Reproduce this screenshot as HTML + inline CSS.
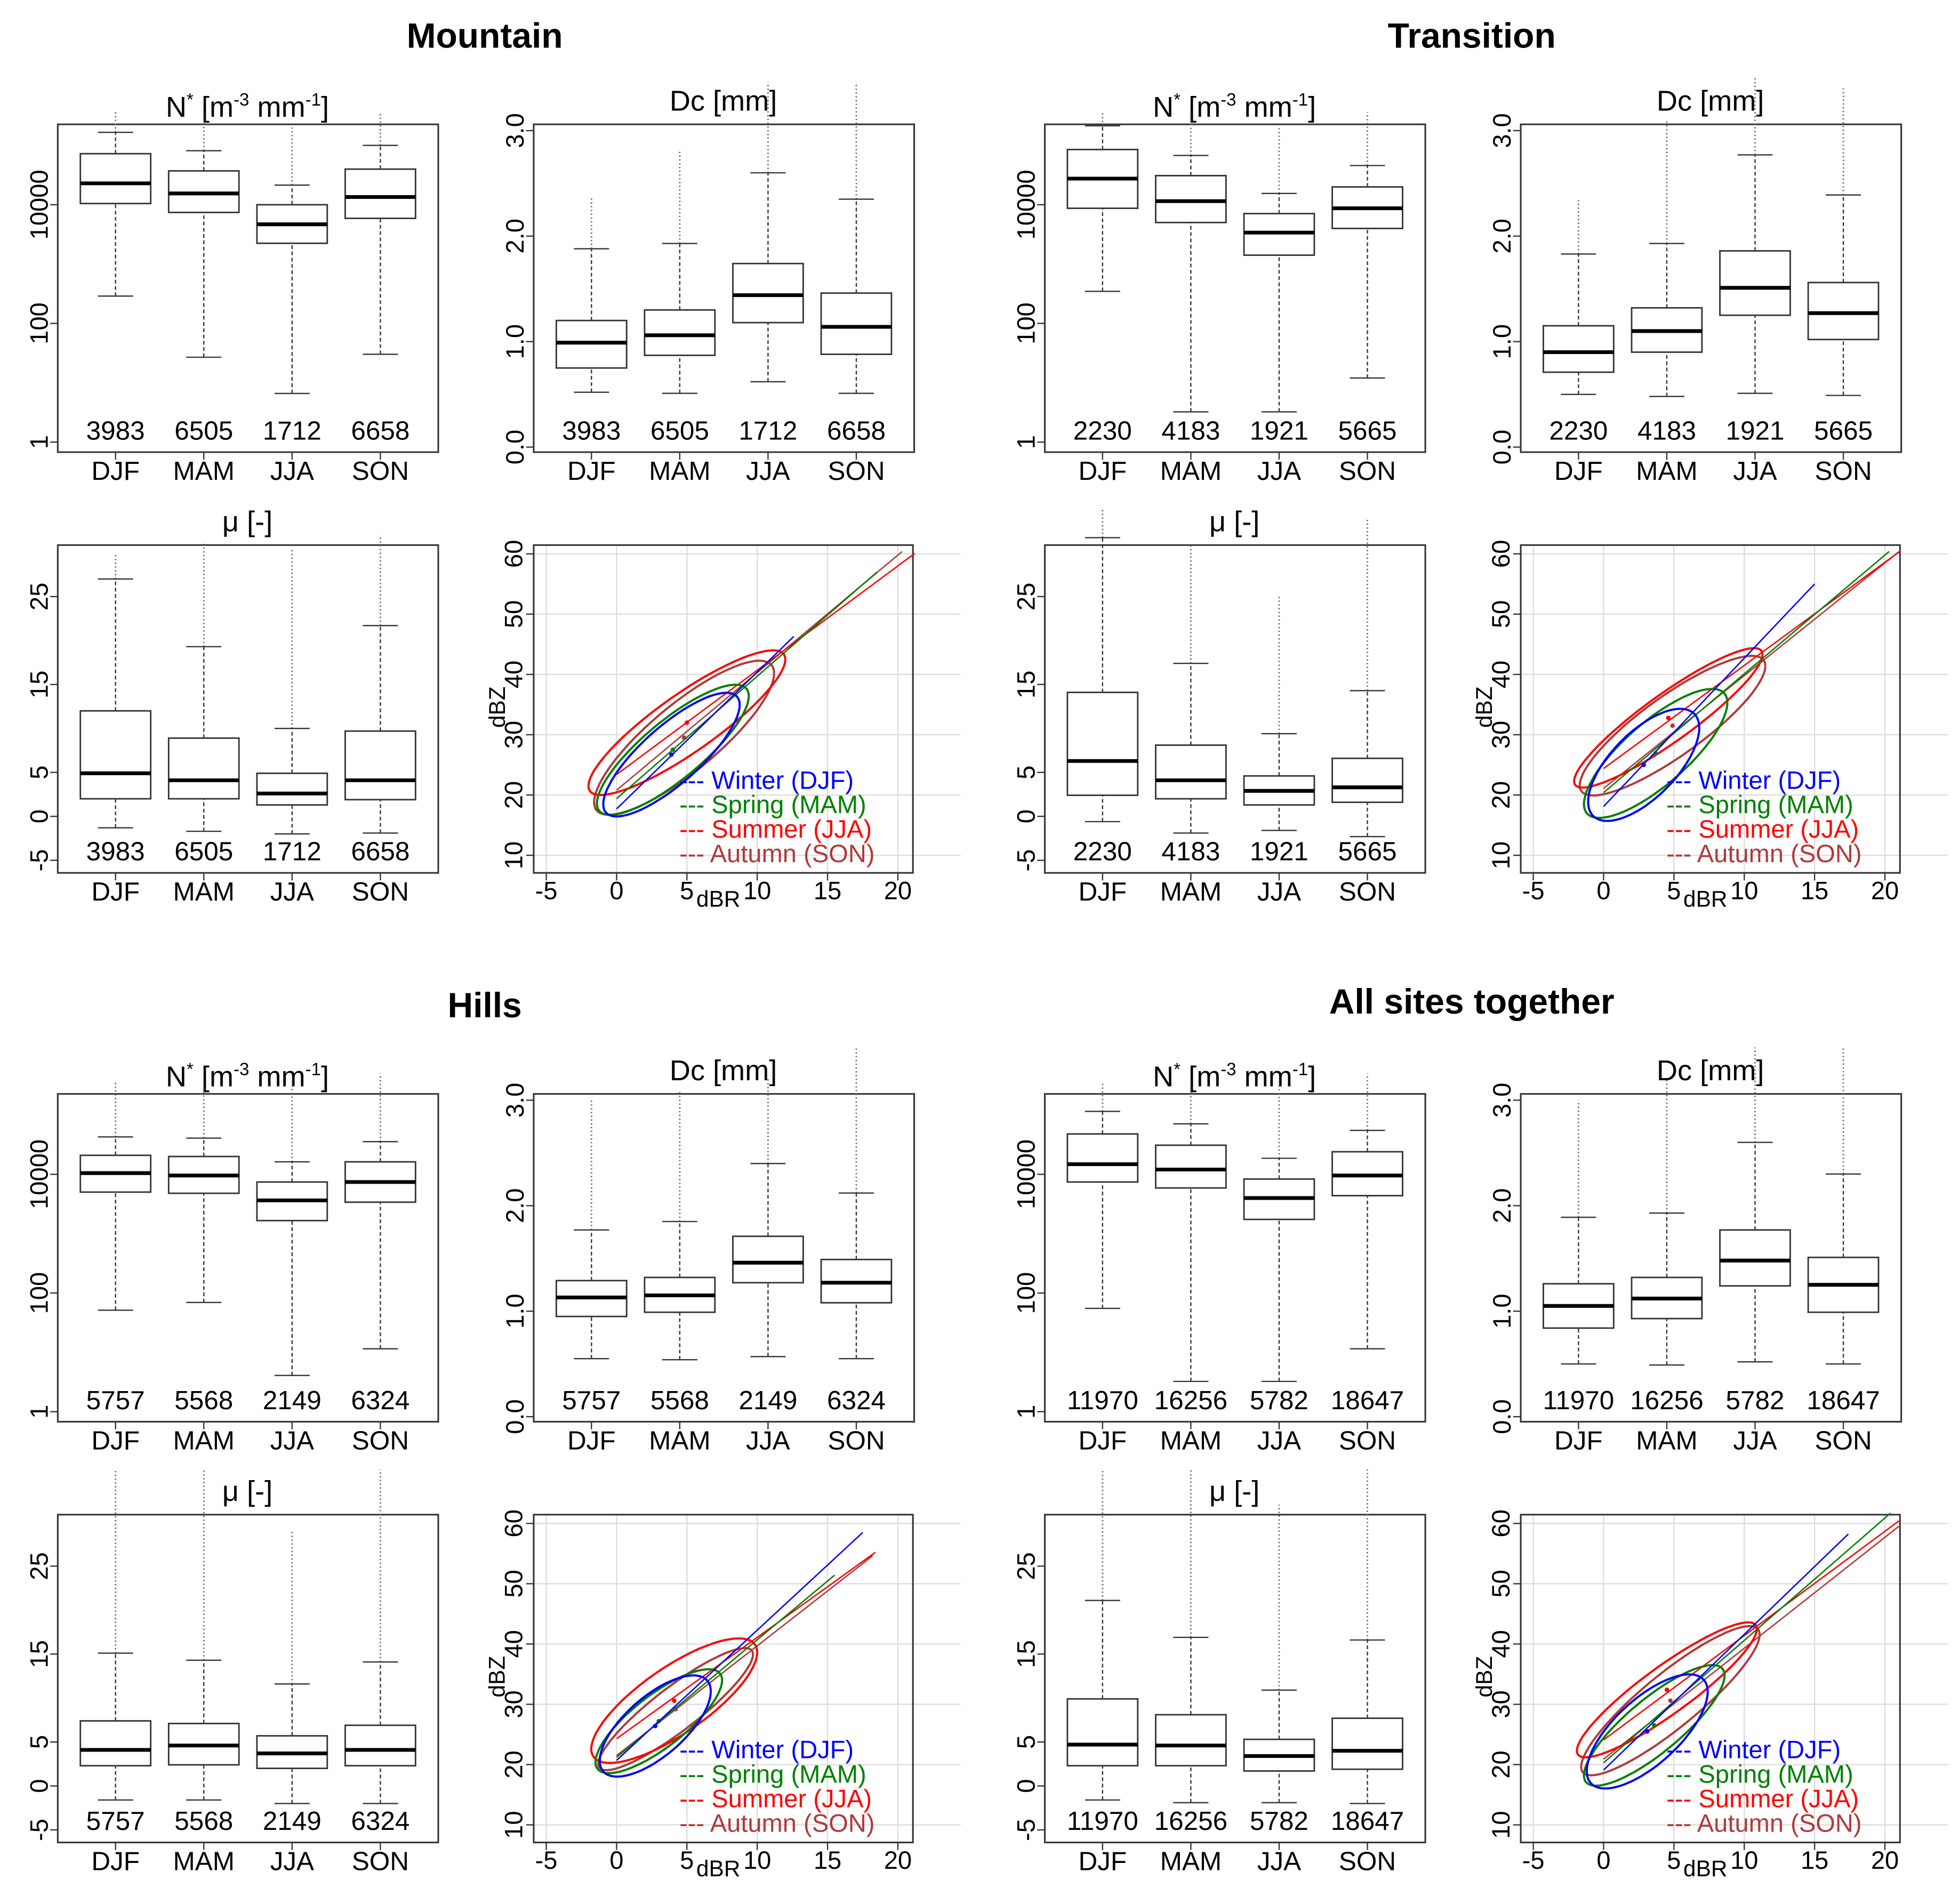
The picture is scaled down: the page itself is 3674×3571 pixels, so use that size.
<!DOCTYPE html>
<html><head><meta charset="utf-8">
<style>
html,body{margin:0;padding:0;background:#fff;}
svg{display:block;}
text{font-family:"Liberation Sans",Arial,sans-serif;}
</style></head>
<body>
<svg id="chart" width="3674" height="3571" viewBox="0 0 1560 1516" preserveAspectRatio="none" xmlns="http://www.w3.org/2000/svg"></svg>
<script>
// ---------------- DATA ----------------
const seasons = ["DJF","MAM","JJA","SON"];
const sites = ["Mountain","Transition","Hills","All sites together"];
const counts = [
  [3983,6505,1712,6658],
  [2230,4183,1921,5665],
  [5757,5568,2149,6324],
  [11970,16256,5782,18647]
];
// box stats: [low whisker, q1, median, q3, high whisker, max outlier]; N* in log10
const nstarMountain = [[2.46,4.02,4.36,4.86,5.22,5.56],[1.43,3.87,4.19,4.57,4.91,5.56],[0.82,3.35,3.67,4.0,4.33,5.3],[1.48,3.77,4.13,4.6,5.0,5.56]];
const nstarTransition = [[2.54,3.94,4.44,4.93,5.33,5.56],[0.51,3.7,4.06,4.49,4.83,5.56],[0.51,3.15,3.53,3.85,4.19,5.3],[1.08,3.6,3.94,4.3,4.66,5.56]];
const nstarHills = [[1.71,3.7,4.02,4.32,4.63,5.56],[1.84,3.68,3.98,4.3,4.61,5.56],[0.61,3.22,3.56,3.87,4.21,5.56],[1.06,3.53,3.87,4.21,4.55,5.7]];
const nstarAll = [[1.74,3.87,4.17,4.68,5.06,5.56],[0.51,3.77,4.08,4.49,4.85,5.6],[0.51,3.24,3.6,3.92,4.27,5.56],[1.06,3.64,3.98,4.38,4.74,5.7]];
const dcMountain = [[0.52,0.75,0.99,1.2,1.88,2.36],[0.51,0.87,1.06,1.3,1.93,2.8],[0.62,1.18,1.44,1.74,2.6,3.46],[0.51,0.88,1.14,1.46,2.35,3.46]];
const dcTransition = [[0.5,0.71,0.9,1.15,1.83,2.36],[0.48,0.9,1.1,1.32,1.93,3.1],[0.51,1.25,1.51,1.86,2.77,3.5],[0.49,1.02,1.27,1.56,2.39,3.4]];
const dcHills = [[0.55,0.95,1.13,1.29,1.77,3.0],[0.54,0.99,1.15,1.32,1.85,3.1],[0.57,1.27,1.46,1.71,2.4,3.2],[0.55,1.08,1.27,1.49,2.12,3.5]];
const dcAll = [[0.5,0.84,1.05,1.26,1.89,3.0],[0.49,0.93,1.12,1.32,1.93,3.2],[0.52,1.24,1.48,1.77,2.6,3.5],[0.5,0.99,1.25,1.51,2.3,3.5]];
const muMountain = [[-1.3,2,4.9,12,27,30],[-1.7,2,4.1,8.9,19.3,31],[-2,1.3,2.6,4.9,10,30.5],[-1.9,1.9,4.1,9.7,21.7,32]];
const muTransition = [[-0.6,2.4,6.3,14.1,31.7,35],[-1.9,2,4.1,8.1,17.4,31],[-1.6,1.3,2.9,4.6,9.4,25],[-2.3,1.6,3.3,6.6,14.3,34]];
const muHills = [[-1.6,2.3,4.1,7.4,15.1,36],[-1.6,2.4,4.6,7.1,14.3,36],[-2,2,3.7,5.7,11.6,29],[-2,2.3,4.1,6.9,14.1,36]];
const muAll = [[-1.6,2.3,4.7,9.9,21.1,36],[-1.9,2.3,4.6,8.1,16.9,36],[-1.9,1.7,3.4,5.3,10.9,32],[-2,1.9,4,7.7,16.6,36]];
const nstarTicks = [0,2,4];
const nstarTickLabels = ["1","100","10000"];
const dcTicks = [0,1,2,3];
const dcTickLabels = ["0.0","1.0","2.0","3.0"];
const muTicks = [-5,0,5,15,25];
const scX = [-5,0,5,10,15,20];
const scY = [10,20,30,40,50,60];
const seasonColors = ["#0000ff","#008000","#ff0000","#b03a3a"];
const legendLabels = ["Winter (DJF)","Spring (MAM)","Summer (JJA)","Autumn (SON)"];
// regression lines: [intercept, slope, xmax]
const linesMountain = [[17.7,2.27,12.6],[19.4,2.03,18.5],[23.4,1.73,21.2],[20.8,1.95,20.3]];
const linesTransition = [[18.1,2.46,15],[20.4,1.97,20.3],[24.4,1.71,21.1],[21.1,1.87,21]];
const linesHills = [[20.7,2.16,17.5],[21.2,1.95,15.5],[24.3,1.68,18.4],[21.5,1.82,18.2]];
const linesAll = [[19.1,2.25,17.4],[20.3,2.03,20.4],[24.1,1.73,21],[20.9,1.84,21]];
// ellipses: [cx, cy, rx, ry, shear]
const ellMountain = [[3.9,26.7,4.85,6.1,1.7],[4,27.5,5.4,6.1,1.65],[5,32,7,5.8,1.5],[4.8,29.5,6.4,7,1.67]];
const ellTransition = [[2.85,25,3.95,7,1.55],[3.7,26.9,5.1,6.6,1.65],[4.6,32.8,6.7,4.8,1.57],[4.9,31.5,6.6,6,1.5]];
const ellHills = [[2.75,26.4,3.95,6.1,1.46],[3,27.2,4.5,5.3,1.51],[4.1,30.6,5.9,6.5,1.36],[4.2,29.2,5.5,4.5,1.65]];
const ellAll = [[3.1,25.5,4.3,6.8,1.53],[3.6,26.5,5,5.6,1.66],[4.5,32.4,6.4,4.8,1.58],[4.75,30.6,6.35,5.7,1.73]];

const nstarSets=[nstarMountain,nstarTransition,nstarHills,nstarAll];
const dcSets=[dcMountain,dcTransition,dcHills,dcAll];
const muSets=[muMountain,muTransition,muHills,muAll];
const lineSets=[linesMountain,linesTransition,linesHills,linesAll];
const ellSets=[ellMountain,ellTransition,ellHills,ellAll];

// ---------------- DRAW ----------------
const svg=document.getElementById('chart');
const NS="http://www.w3.org/2000/svg";
function el(tag,attrs,parent,txt){const e=document.createElementNS(NS,tag);for(const k in attrs)e.setAttribute(k,attrs[k]);if(txt!==undefined)e.textContent=txt;(parent||svg).appendChild(e);return e;}

function boxPanel(g,ox,oy,data,yFn,ticks,tickLabels,title,cnt,nameBase,supTitle){
  const L=ox+46,R=ox+349,T=oy+99,B=oy+360;
  const frame=el('rect',{x:L,y:T,width:R-L,height:B-T,fill:'none',stroke:'#333','stroke-width':1.3},g);
  
  
  if(supTitle){
    const t=el('text',{x:ox+197,y:oy+93,'text-anchor':'middle','font-size':23},g);
    
    
    el('tspan',{},t,'N');el('tspan',{dy:-9,'font-size':14},t,'*');el('tspan',{dy:9},t,' [m');el('tspan',{dy:-9,'font-size':14},t,'-3');el('tspan',{dy:9},t,' mm');el('tspan',{dy:-9,'font-size':14},t,'-1');el('tspan',{dy:9},t,']');
  } else {
    const t=el('text',{x:ox+197,y:oy+88,'text-anchor':'middle','font-size':23},g,title);
    
    
  }
  ticks.forEach((v,i)=>{const y=yFn(v)+oy;
    el('line',{x1:L-6,x2:L,y1:y,y2:y,stroke:'#333'},g);
    const lab=el('text',{x:ox+38,y:y,'text-anchor':'middle','font-size':20,transform:`rotate(-90 ${ox+38} ${y})`},g,tickLabels[i]);
    
    
  });
  data.forEach((d,i)=>{
    const cx=ox+92+i*70.3, hw=28;
    const bg=el('g',{},g);
    
    
    const y=v=>yFn(v)+oy;
    el('line',{x1:cx,x2:cx,y1:y(d[4]),y2:y(d[5]),stroke:'#666','stroke-width':1.2,'stroke-dasharray':'1 2'},bg);
    el('line',{x1:cx,x2:cx,y1:y(d[0]),y2:y(d[1]),stroke:'#333','stroke-dasharray':'3 2'},bg);
    el('line',{x1:cx,x2:cx,y1:y(d[3]),y2:y(d[4]),stroke:'#333','stroke-dasharray':'3 2'},bg);
    el('line',{x1:cx-14,x2:cx+14,y1:y(d[0]),y2:y(d[0]),stroke:'#333'},bg);
    el('line',{x1:cx-14,x2:cx+14,y1:y(d[4]),y2:y(d[4]),stroke:'#333'},bg);
    el('rect',{x:cx-hw,y:y(d[3]),width:2*hw,height:y(d[1])-y(d[3]),fill:'#fff',stroke:'#333','stroke-width':1.2},bg);
    el('line',{x1:cx-hw,x2:cx+hw,y1:y(d[2]),y2:y(d[2]),stroke:'#000','stroke-width':3},bg);
    el('line',{x1:cx,x2:cx,y1:B,y2:B+6,stroke:'#333'},g);
    const c=el('text',{x:cx,y:oy+350,'text-anchor':'middle','font-size':21},g,String(cnt[i]));
    
    
    const s=el('text',{x:cx,y:oy+382,'text-anchor':'middle','font-size':21},g,seasons[i]);
    
    
  });
}

function scatterPanel(g,ox,oy,lines,ells,nameBase){
  const L=ox+425,R=ox+727,T=oy+434,B=oy+695;
  const xs=v=>ox+491+v*11.2, ys=v=>oy+633-(v-20)*4.8;
  scX.forEach(v=>{el('line',{x1:xs(v),x2:xs(v),y1:T,y2:B,stroke:'#ddd'},g);});
  scY.forEach(v=>{el('line',{x1:L,x2:R+38,y1:ys(v),y2:ys(v),stroke:'#ddd'},g);});
  const frame=el('rect',{x:L,y:T,width:R-L,height:B-T,fill:'none',stroke:'#333','stroke-width':1.3},g);
  
  
  scX.forEach(v=>{el('line',{x1:xs(v),x2:xs(v),y1:B,y2:B+6,stroke:'#333'},g);
    const t=el('text',{x:xs(v),y:oy+716,'text-anchor':'middle','font-size':20},g,String(v));
    
    });
  scY.forEach(v=>{el('line',{x1:L-6,x2:L,y1:ys(v),y2:ys(v),stroke:'#333'},g);
    const t=el('text',{x:ox+416,y:ys(v),'text-anchor':'middle','font-size':20,transform:`rotate(-90 ${ox+416} ${ys(v)})`},g,String(v));
    
    });
  const xl=el('text',{x:ox+572,y:oy+722,'text-anchor':'middle','font-size':18},g,'dBR');
  
  
  const yl=el('text',{x:ox+402,y:oy+563,'text-anchor':'middle','font-size':18,transform:`rotate(-90 ${ox+402} ${oy+563})`},g,'dBZ');
  
  
  [3,2,1,0].forEach(i=>{
    const c=seasonColors[i], e=ells[i], ln=lines[i];
    const sg=el('g',{},g);
    
    
    let d='';
    for(let k=0;k<=90;k++){const t=k/90*2*Math.PI;const x=e[0]+e[2]*Math.cos(t);const y=e[1]+e[4]*e[2]*Math.cos(t)+e[3]*Math.sin(t);d+=(k?'L':'M')+xs(x).toFixed(1)+' '+ys(y).toFixed(1);}
    el('path',{d:d,fill:'none',stroke:c,'stroke-width':1.7},sg);
    el('line',{x1:xs(0),y1:ys(ln[0]),x2:xs(ln[2]),y2:ys(ln[0]+ln[1]*ln[2]),stroke:c,'stroke-width':1.1},sg);
    el('circle',{cx:xs(e[0]),cy:ys(e[1]),r:1.8,fill:c},sg);
  });
  legendLabels.forEach((lab,i)=>{
    const t=el('text',{x:ox+541,y:oy+628+i*19.5,'font-size':20,fill:seasonColors[i]},g,'--- '+lab);
    
    
  });
}

const offs=[[0,0],[786,0],[0,772],[786,772]];
const titleY=[28,28,800,797];
sites.forEach((site,q)=>{
  const [ox,oy]=offs[q];
  const key=site.split(' ')[0].toLowerCase();
  const g=el('g',{});
  
  
  const t=el('text',{x:ox+386,y:titleY[q]+10,'text-anchor':'middle','font-size':28,'font-weight':'bold'},g,site);
  
  
  boxPanel(g,ox,oy,nstarSets[q],v=>352-v*47.25,nstarTicks,nstarTickLabels,'',counts[q],key+'-nstar-panel',true);
  boxPanel(g,ox+379,oy,dcSets[q],v=>356-v*84,dcTicks,dcTickLabels,'Dc [mm]',counts[q],key+'-dc-panel',false);
  boxPanel(g,ox,oy+335,muSets[q],v=>315-v*7,muTicks,muTicks.map(String),'μ [-]',counts[q],key+'-mu-panel',false);
  scatterPanel(g,ox,oy,lineSets[q],ellSets[q],key+'-zr-scatter');
});
</script>
</body></html>
